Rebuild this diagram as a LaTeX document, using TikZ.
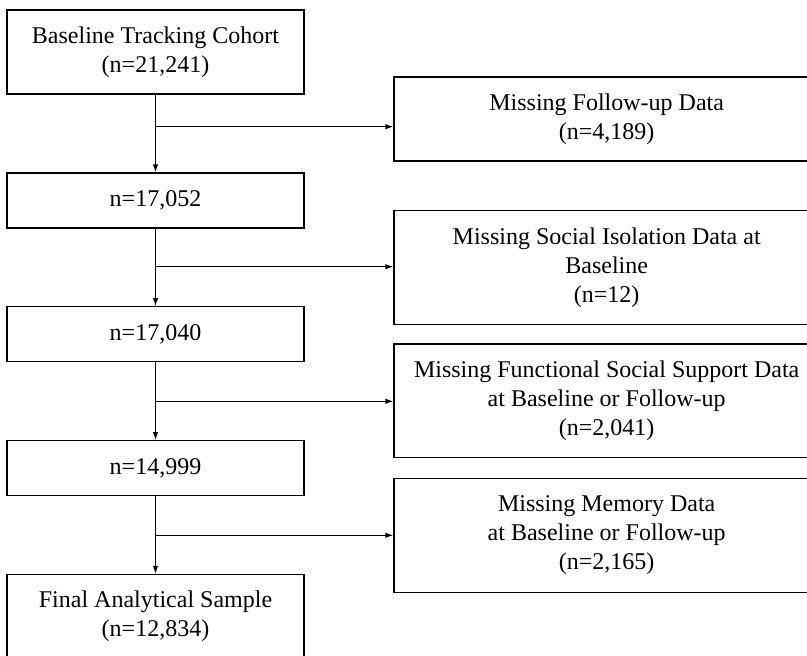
\documentclass[tikz,border=0pt]{standalone}
\usepackage{fontspec}
\setmainfont{Liberation Serif}
\usetikzlibrary{arrows.meta}
\begin{document}
\begin{tikzpicture}[x=1pt,y=-1pt,
  box/.style={draw, line width=1.2pt, align=center, inner sep=0pt, font=\fontsize{24}{29}\selectfont},
  lbox/.style={box, minimum width=297pt},
  rbox/.style={box, minimum width=425.4pt},
  arr/.style={line width=1.2pt, -{Latex[length=8pt,width=5.5pt]}}]
\useasboundingbox (0,0) rectangle (807,656);
\begin{scope}
\clip (0,0) rectangle (807,656);
% left column
\node[lbox, minimum height=84pt] (b1) at (155.5,52) {Baseline Tracking Cohort\\(n=21,241)};
\node[lbox, minimum height=55pt] (b2) at (155.5,200.5) {n=17,052};
\node[lbox, minimum height=55pt] (b3) at (155.5,334.2) {n=17,040};
\node[lbox, minimum height=55pt] (b4) at (155.5,468.2) {n=14,999};
\node[lbox, minimum height=84pt] (b5) at (155.5,616.5) {Final Analytical Sample\\(n=12,834)};
% right column
\node[rbox, minimum height=84pt] (r1) at (606.7,119) {Missing Follow-up Data\\(n=4,189)};
\node[rbox, minimum height=113.6pt] (r2) at (606.7,267.5) {Missing Social Isolation Data at\\Baseline\\(n=12)};
\node[rbox, minimum height=113.7pt] (r3) at (606.7,400.9) {Missing Functional Social Support Data\\at Baseline or Follow-up\\(n=2,041)};
\node[rbox, minimum height=114pt] (r4) at (606.7,535.3) {Missing Memory Data\\at Baseline or Follow-up\\(n=2,165)};
% junctions
\coordinate (j1) at (155.5,126.7);
\coordinate (j2) at (155.5,266.7);
\coordinate (j3) at (155.5,401.3);
\coordinate (j4) at (155.5,535.3);
% connectors
\draw[arr] (b1.south) -- (b2.north);
\draw[arr] (b2.south) -- (b3.north);
\draw[arr] (b3.south) -- (b4.north);
\draw[arr] (b4.south) -- (b5.north);
\draw[arr] (j1) -- (j1 -| r1.west);
\draw[arr] (j2) -- (j2 -| r2.west);
\draw[arr] (j3) -- (j3 -| r3.west);
\draw[arr] (j4) -- (j4 -| r4.west);
\end{scope}
\end{tikzpicture}
\end{document}
